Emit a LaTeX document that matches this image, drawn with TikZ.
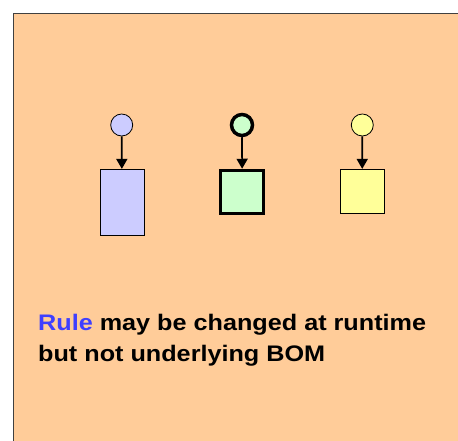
\documentclass[tikz,border=0pt]{standalone}
\usepackage{fontspec}
\setmainfont{Liberation Sans}
\usetikzlibrary{arrows.meta}
\definecolor{panel}{HTML}{FFCC99}
\definecolor{lilac}{HTML}{CCCCFF}
\definecolor{mint}{HTML}{CCFFCC}
\definecolor{lemon}{HTML}{FFFF99}
\definecolor{rulecol}{HTML}{3F3FFF}
\definecolor{frame}{HTML}{404040}
\tikzset{
  ruleball/.style={circle, draw=black, line width=0.8pt, minimum size=22pt, inner sep=0pt},
  bomblock/.style={rectangle, draw=black, line width=0.8pt, inner sep=0pt},
  heavy/.style={line width=3.5pt},
  link/.style={-{Triangle[length=10pt,width=11pt]}, line width=1.7pt},
  caption/.style={anchor=base west, inner sep=0pt,
    font=\addfontfeature{FakeStretch=1.12}\bfseries\fontsize{22.5}{26}\selectfont}
}
\begin{document}
\begin{tikzpicture}[x=1pt,y=-1pt]
\useasboundingbox (0,0) rectangle (458,441);
% panel
\fill[white] (0,0) rectangle (458,441);
\filldraw[fill=panel, draw=frame, line width=1pt] (13,14) -- (13,445) -- (462,445) -- (462,14) -- cycle;
% three rule/BOM pairs
\node[ruleball, fill=lilac] (c1) at (121.7,125) {};
\node[ruleball, fill=mint, heavy, minimum size=21pt] (c2) at (242,125) {};
\node[ruleball, fill=lemon] (c3) at (362.3,125) {};
\node[bomblock, fill=lilac, minimum width=44pt, minimum height=66.4pt] (b1) at (122,202.5) {};
\node[bomblock, fill=mint, heavy, minimum width=43pt, minimum height=43pt] (b2) at (242.2,192) {};
\node[bomblock, fill=lemon, minimum width=43.7pt, minimum height=44.4pt] (b3) at (362.2,191.5) {};
\draw[link] (c1) -- (b1);
\draw[link] (c2) -- (b2);
\draw[link] (c3) -- (b3);
% caption
\node[caption] (t1) at (38,330) {\textcolor{rulecol}{Rule} may be changed at runtime};
\node[caption] (t2) at (38,361) {but not underlying BOM};
\end{tikzpicture}
\end{document}
